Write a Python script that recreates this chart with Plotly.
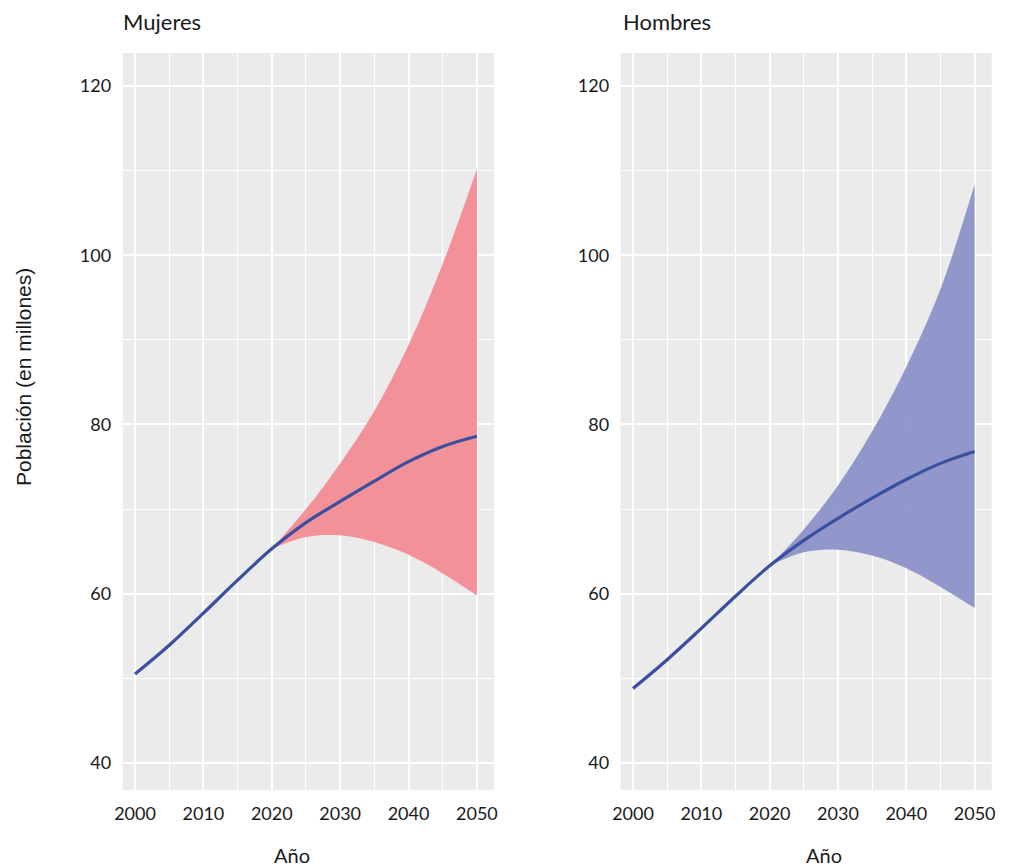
import plotly.graph_objects as go

years = [2000, 2005, 2010, 2015, 2020, 2025, 2030, 2035, 2040, 2045, 2050]
mujeres_mid = [50.5, 53.9, 57.7, 61.6, 65.3, 68.4, 70.9, 73.3, 75.6, 77.4, 78.6]
hombres_mid = [48.8, 52.2, 55.9, 59.7, 63.3, 66.3, 68.9, 71.3, 73.5, 75.4, 76.8]

band_years = [2020, 2025, 2030, 2035, 2040, 2045, 2050]
mujeres_low = [65.3, 66.7, 66.9, 66.1, 64.6, 62.4, 59.8]
mujeres_high = [65.3, 70.0, 75.4, 81.6, 89.4, 99.0, 110.2]
hombres_low = [63.3, 64.9, 65.2, 64.5, 63.0, 60.8, 58.3]
hombres_high = [63.3, 67.6, 72.8, 79.2, 86.8, 96.0, 108.4]

panel_titles = ["Mujeres", "Hombres"]
x_ticks = [2000, 2010, 2020, 2030, 2040, 2050]
y_ticks = [40, 60, 80, 100, 120]

W, H = 1027, 867
LINE = "#3A4FA0"
FILLS = ["rgba(243,140,148,0.95)", "rgba(140,146,200,0.95)"]
FONT = "Lato"

fig = go.Figure()

panels = [
    (mujeres_mid, mujeres_low, mujeres_high, "x", "y"),
    (hombres_mid, hombres_low, hombres_high, "x2", "y2"),
]
for i, (mid, low, high, xa, ya) in enumerate(panels):
    fig.add_trace(go.Scatter(x=band_years, y=high, mode="lines", line=dict(width=0, shape="spline"),
                             xaxis=xa, yaxis=ya, showlegend=False, hoverinfo="skip"))
    fig.add_trace(go.Scatter(x=band_years, y=low, mode="lines", line=dict(width=0, shape="spline"),
                             fill="tonexty", fillcolor=FILLS[i],
                             xaxis=xa, yaxis=ya, showlegend=False, hoverinfo="skip"))
    fig.add_trace(go.Scatter(x=years, y=mid, mode="lines", line=dict(color=LINE, width=3.2, shape="spline"),
                             xaxis=xa, yaxis=ya, showlegend=False))

ydom = [1 - 790 / H, 1 - 53 / H]
xdoms = [[122.7 / W, 494 / W], [620.7 / W, 991.7 / W]]

axis_common = dict(
    showgrid=True, gridcolor="white", gridwidth=1.6, zeroline=False, showline=False,
    ticks="outside", ticklen=7, tickcolor="rgba(0,0,0,0)", automargin=False,
    tickfont=dict(family=FONT, size=18, color="#1a1a1a"),
)

layout = dict(
    width=W, height=H,
    margin=dict(l=0, r=0, t=0, b=0),
    paper_bgcolor="white", plot_bgcolor="#EBEBEB",
    showlegend=False,
)
for i, suf in enumerate(["", "2"]):
    layout["xaxis" + suf] = dict(axis_common, domain=xdoms[i], range=[1998.2, 2052.5],
                                 tickvals=x_ticks, anchor="y" + suf,
                                 minor=dict(showgrid=True, gridcolor="white", gridwidth=0.7, dtick=5, tick0=2005))
    layout["yaxis" + suf] = dict(axis_common, domain=ydom, range=[36.8, 123.9],
                                 tickvals=y_ticks, anchor="x" + suf,
                                 minor=dict(showgrid=True, gridcolor="white", gridwidth=0.7, dtick=10, tick0=50))
fig.update_layout(**layout)

annotations = [
    dict(text=panel_titles[0], x=121 / W, y=1 - 21 / H, xanchor="left", yanchor="middle"),
    dict(text=panel_titles[1], x=621 / W, y=1 - 21 / H, xanchor="left", yanchor="middle"),
]
for a in annotations:
    a.update(xref="paper", yref="paper", showarrow=False, font=dict(family=FONT, size=22, color="#1a1a1a"))
axis_titles = [
    dict(text="Año", x=292 / W, y=1 - 855 / H, xanchor="center", yanchor="middle",
         font=dict(family=FONT, size=20, color="#1a1a1a")),
    dict(text="Año", x=824 / W, y=1 - 855 / H, xanchor="center", yanchor="middle",
         font=dict(family=FONT, size=20, color="#1a1a1a")),
    dict(text="Población (en millones)", x=23 / W, y=1 - 377 / H, xanchor="center", yanchor="middle",
         textangle=-90, font=dict(family="Liberation Sans", size=21, color="#1a1a1a")),
]
for a in axis_titles:
    a.update(xref="paper", yref="paper", showarrow=False)
fig.update_layout(annotations=annotations + axis_titles)

fig.write_html("out.html", config={"displayModeBar": False},
               post_script="document.body.style.margin='0';document.body.style.overflow='hidden';")
